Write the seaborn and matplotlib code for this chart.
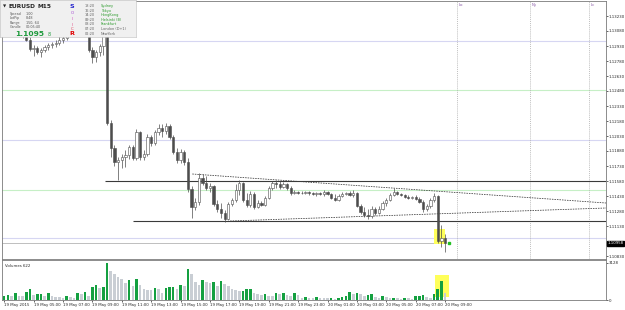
import numpy as np
import pandas as pd
import matplotlib
matplotlib.use("Agg")
import matplotlib.pyplot as plt
from matplotlib.patches import Rectangle
import seaborn as sns

# EURUSD M15, 19 May 2015 03:00 -> 20 May 2015 09:00
open_ = [1.1313, 1.1315, 1.1317, 1.1314, 1.1310, 1.1308, 1.1303, 1.1299, 1.1290, 1.1291,
         1.1287, 1.1289, 1.1292, 1.1294, 1.1295, 1.1296, 1.1299, 1.1301, 1.1309, 1.1311,
         1.1313, 1.1312, 1.1309, 1.1305, 1.1289, 1.1282, 1.1287, 1.1293, 1.1305, 1.1216,
         1.1191, 1.1177, 1.1179, 1.1182, 1.1184, 1.1192, 1.1181, 1.1207, 1.1182, 1.1185,
         1.1202, 1.1196, 1.1207, 1.1211, 1.1208, 1.1213, 1.1202, 1.1187, 1.1179, 1.1187,
         1.1177, 1.1150, 1.1132, 1.1137, 1.1161, 1.1156, 1.1151, 1.1153, 1.1135, 1.1130,
         1.1126, 1.1120, 1.1135, 1.1139, 1.1149, 1.1156, 1.1139, 1.1134, 1.1145, 1.1132,
         1.1136, 1.1134, 1.1141, 1.1151, 1.1156, 1.1155, 1.1152, 1.1155, 1.1151, 1.1146,
         1.1147, 1.1146, 1.1146, 1.1147, 1.1146, 1.1145, 1.1146, 1.1145, 1.1147, 1.1145,
         1.1141, 1.1139, 1.1143, 1.1145, 1.1146, 1.1144, 1.1146, 1.1133, 1.1127, 1.1124,
         1.1123, 1.1130, 1.1126, 1.1130, 1.1136, 1.1139, 1.1144, 1.1147, 1.1145, 1.1144,
         1.1142, 1.1141, 1.1142, 1.1140, 1.1137, 1.1130, 1.1133, 1.1139, 1.1143, 1.1098,
         1.1101]
high = [1.1319, 1.1320, 1.1321, 1.1318, 1.1315, 1.1312, 1.1307, 1.1302, 1.1294, 1.1293,
        1.1291, 1.1294, 1.1296, 1.1297, 1.1299, 1.1303, 1.1306, 1.1311, 1.1314, 1.1317,
        1.1317, 1.1316, 1.1314, 1.1308, 1.1292, 1.1289, 1.1295, 1.1309, 1.1309, 1.1219,
        1.1194, 1.1182, 1.1185, 1.1189, 1.1194, 1.1194, 1.1210, 1.1208, 1.1189, 1.1205,
        1.1204, 1.1209, 1.1215, 1.1215, 1.1216, 1.1215, 1.1204, 1.1191, 1.1190, 1.1189,
        1.1181, 1.1153, 1.1141, 1.1166, 1.1165, 1.1163, 1.1156, 1.1154, 1.1139, 1.1136,
        1.1129, 1.1137, 1.1141, 1.1155, 1.1159, 1.1157, 1.1146, 1.1148, 1.1147, 1.1139,
        1.1138, 1.1143, 1.1153, 1.1158, 1.1159, 1.1158, 1.1157, 1.1156, 1.1153, 1.1149,
        1.1148, 1.1148, 1.1148, 1.1148, 1.1147, 1.1147, 1.1147, 1.1149, 1.1148, 1.1146,
        1.1145, 1.1145, 1.1147, 1.1147, 1.1148, 1.1149, 1.1147, 1.1135, 1.1132, 1.1130,
        1.1133, 1.1132, 1.1133, 1.1138, 1.1141, 1.1146, 1.1151, 1.1148, 1.1146, 1.1145,
        1.1144, 1.1143, 1.1144, 1.1142, 1.1139, 1.1135, 1.1141, 1.1146, 1.1144, 1.1114,
        1.1105]
low = [1.1309, 1.1311, 1.1312, 1.1308, 1.1305, 1.1301, 1.1298, 1.1288, 1.1283, 1.1285,
       1.1282, 1.1287, 1.1289, 1.1291, 1.1292, 1.1294, 1.1296, 1.1299, 1.1305, 1.1307,
       1.1309, 1.1306, 1.1303, 1.1287, 1.1276, 1.1277, 1.1283, 1.1284, 1.1214, 1.1182,
       1.1173, 1.1159, 1.1171, 1.1172, 1.1180, 1.1179, 1.1179, 1.1179, 1.1179, 1.1183,
       1.1193, 1.1194, 1.1204, 1.1202, 1.1205, 1.1200, 1.1185, 1.1176, 1.1176, 1.1174,
       1.1147, 1.1121, 1.1129, 1.1134, 1.1154, 1.1149, 1.1147, 1.1133, 1.1127, 1.1121,
       1.1117, 1.1119, 1.1133, 1.1137, 1.1144, 1.1137, 1.1132, 1.1132, 1.1130, 1.1131,
       1.1133, 1.1133, 1.1140, 1.1149, 1.1151, 1.1150, 1.1151, 1.1149, 1.1144, 1.1145,
       1.1145, 1.1145, 1.1145, 1.1144, 1.1144, 1.1143, 1.1144, 1.1143, 1.1144, 1.1140,
       1.1138, 1.1138, 1.1142, 1.1144, 1.1143, 1.1142, 1.1132, 1.1125, 1.1122, 1.1120,
       1.1121, 1.1124, 1.1125, 1.1129, 1.1133, 1.1138, 1.1143, 1.1144, 1.1143, 1.1141,
       1.1140, 1.1140, 1.1139, 1.1136, 1.1127, 1.1128, 1.1131, 1.1137, 1.1096, 1.1092,
       1.1087]
close = [1.1315, 1.1317, 1.1314, 1.1310, 1.1308, 1.1303, 1.1299, 1.1290, 1.1291, 1.1287,
         1.1289, 1.1292, 1.1294, 1.1295, 1.1296, 1.1299, 1.1301, 1.1309, 1.1311, 1.1313,
         1.1312, 1.1309, 1.1306, 1.1289, 1.1282, 1.1287, 1.1293, 1.1305, 1.1216, 1.1191,
         1.1177, 1.1179, 1.1182, 1.1184, 1.1192, 1.1181, 1.1207, 1.1182, 1.1185, 1.1202,
         1.1196, 1.1207, 1.1211, 1.1208, 1.1213, 1.1202, 1.1187, 1.1179, 1.1187, 1.1177,
         1.1150, 1.1132, 1.1137, 1.1161, 1.1156, 1.1151, 1.1153, 1.1135, 1.1130, 1.1126,
         1.1120, 1.1135, 1.1139, 1.1149, 1.1156, 1.1139, 1.1134, 1.1145, 1.1132, 1.1136,
         1.1134, 1.1141, 1.1151, 1.1156, 1.1155, 1.1152, 1.1155, 1.1151, 1.1146, 1.1147,
         1.1146, 1.1146, 1.1147, 1.1146, 1.1145, 1.1146, 1.1145, 1.1147, 1.1145, 1.1141,
         1.1139, 1.1143, 1.1145, 1.1146, 1.1144, 1.1146, 1.1133, 1.1127, 1.1124, 1.1123,
         1.1130, 1.1126, 1.1130, 1.1136, 1.1139, 1.1144, 1.1147, 1.1145, 1.1144, 1.1142,
         1.1141, 1.1142, 1.1140, 1.1137, 1.1130, 1.1133, 1.1139, 1.1143, 1.1098, 1.1101,
         1.10958]
volume = [300, 430, 300, 570, 350, 320, 680, 890, 400, 490,
          500, 350, 570, 300, 290, 220, 210, 350, 220, 140,
          570, 490, 680, 350, 1080, 1300, 1030, 1130, 3128, 2460,
          2240, 1920, 1760, 1430, 1650, 1160, 1760, 1240, 950, 840,
          820, 1030, 890, 620, 1030, 1110, 1120, 950, 1240, 1160,
          2650, 2240, 1490, 1300, 1650, 1490, 1430, 1490, 1160, 1570,
          1350, 1160, 890, 840, 760, 780, 890, 970, 570, 490,
          400, 490, 350, 300, 570, 490, 620, 430, 350, 570,
          400, 140, 220, 200, 140, 240, 190, 190, 150, 160,
          110, 135, 270, 350, 680, 490, 620, 490, 350, 400,
          490, 270, 190, 320, 220, 140, 190, 140, 100, 160,
          140, 120, 350, 380, 410, 220, 200, 490, 890, 1620,
          622]

date_labels = ["19 May 2015", "19 May 05:00", "19 May 07:00", "19 May 09:00",
               "19 May 11:00", "19 May 13:00", "19 May 15:00", "19 May 17:00",
               "19 May 19:00", "19 May 21:00", "19 May 23:00", "20 May 01:00",
               "20 May 03:00", "20 May 05:00", "20 May 07:00", "20 May 09:00"]
price_ticks = [1.1083, 1.1113, 1.1128, 1.1143, 1.1158, 1.1173, 1.1188, 1.1203,
               1.1218, 1.1233, 1.1248, 1.1263, 1.1278, 1.1293, 1.1308, 1.1323]
pivot_lavender = [1.1298, 1.1199, 1.1101]
pivot_green = [1.1249, 1.1149]
support_levels = [1.1158, 1.1118]
triangle_upper = [1.1165, 1.1136]
triangle_lower = [1.1118, 1.1131]
bid = 1.10958
vol_label_max = 3128
session_names = ["Lo", "Ny", "Lc"]
info_keys = ["Spread", "LotPip", "Range", "Candle"]
info_vals = ["1.00", "8.48", "150, 64", "00:05:40"]
clock_times = ["18:20", "16:20", "14:20", "09:20", "08:20", "07:20", "02:20"]
clock_cities = ["Sydney", "Tokyo", "HongKong", "Helsinki (B)", "Frankfurt",
                "London (D+1)", "NewYork"]
sess_letters = ["S", "O", "I", "I", "C", "R"]

sns.set_theme(style="white")
plt.rcParams["font.family"] = ["DejaVu Sans"]

df = pd.DataFrame({"open": open_, "high": high, "low": low,
                   "close": close, "volume": volume})
df["bar"] = np.arange(len(df))
df["up"] = df["close"] >= df["open"]
df["vol_dir"] = np.where(df["volume"].diff().fillna(1) > 0, "up", "down")

W, H = 625, 310
def box(x0, y0, x1, y1):
    return [x0 / W, 1 - y1 / H, (x1 - x0) / W, (y1 - y0) / H]

fig = plt.figure(figsize=(6.25, 3.1), dpi=100)
ax = fig.add_axes(box(2, 1, 606, 259))
axv = fig.add_axes(box(2, 260, 606, 300))
xmax = 163.8
edge = "#4d4d4d"
small = 2.8

# price panel: levels first, candles on top
for lv in pivot_lavender:
    ax.axhline(lv, color="#d6d6f2", lw=0.8, zorder=1)
for lv in pivot_green:
    ax.axhline(lv, color="#c6efc6", lw=0.8, zorder=1)
ax.hlines(support_levels, [27.5, 35.1], xmax, color="#3a3a3a", lw=0.8, zorder=2)
ax.plot([51.2, xmax], triangle_upper, color="#3a3a3a", lw=0.55, ls=(0, (2, 1.3)), zorder=2)
ax.plot([61.5, xmax], triangle_lower, color="#3a3a3a", lw=0.55, ls=(0, (2, 1.3)), zorder=2)
ax.hlines(bid, -0.6, 118.6, color="#b4b4b4", lw=0.6, zorder=1)
for x, name in zip([123.3, 143.1, 159.2], session_names):
    ax.axvline(x, color="#a8a8a8", lw=0.5, ls=(0, (1.5, 1.5)), zorder=1)
    ax.text(x + 0.4, 1.1334, name, fontsize=small, color="#8a5aa8", va="center")
ax.add_patch(Rectangle((117.0, 1.1095), 3.0, 0.0015, facecolor="#ffff5a",
                       edgecolor="none", zorder=1.5))

ax.vlines(df["bar"], df["low"], df["high"], color=edge, lw=0.5, zorder=3)
body = (df["close"] - df["open"]).abs().clip(lower=0.00003)
ax.bar(df["bar"], body, bottom=np.minimum(df["open"], df["close"]), width=0.62,
       color=np.where(df["up"], "white", edge), edgecolor=edge, linewidth=0.4, zorder=4)
ax.plot([121.1], [bid], marker="s", ms=1.6, color="#22c022", zorder=5)

ax.set_xlim(-0.6, xmax)
ax.set_ylim(1.1080, 1.1338)
ax.set_xticks([])
ax.yaxis.tick_right()
ax.set_yticks(price_ticks)
ax.set_yticklabels([f"{t:.5f}" for t in price_ticks])
ax.tick_params(axis="y", right=True, labelsize=small, length=1.2, width=0.5, pad=0.6)
ax.text(1.002, bid, f"{bid:.5f}", transform=ax.get_yaxis_transform(), fontsize=small,
        color="white", va="center", ha="left",
        bbox=dict(boxstyle="square,pad=0.1", fc="black", ec="black"))

# volume panel
vtop = vol_label_max * 40 / 37
axv.add_patch(Rectangle((117.3, vtop * 3 / 40), 3.8, vtop * 22 / 40,
                        facecolor="#ffff5a", edgecolor="none", zorder=0.5))
sns.barplot(data=df, x="bar", y="volume", hue="vol_dir",
            palette={"up": "#14a040", "down": "#c9ced4"}, native_scale=True,
            dodge=False, width=0.7, saturation=1, errorbar=None, legend=False,
            edgecolor="none", linewidth=0, ax=axv)
axv.set_xlim(-0.6, xmax)
axv.set_ylim(0, vtop)
axv.set_xlabel("")
axv.set_ylabel("")
axv.set_xticks(np.arange(0, 121, 8))
axv.set_xticklabels(date_labels, ha="left")
axv.tick_params(axis="x", bottom=True, labelsize=small, length=1.2, width=0.5, pad=1)
axv.yaxis.tick_right()
axv.set_yticks([0, vol_label_max])
axv.set_yticklabels(["0", str(vol_label_max)])
axv.tick_params(axis="y", right=True, labelsize=small, length=1.2, width=0.5, pad=0.6)
axv.text(0.005, 0.9, f"Volumes {volume[-1]}", transform=axv.transAxes,
         fontsize=small, va="top")

for a in (ax, axv):
    for s in a.spines.values():
        s.set_color("#7a7a7a")
        s.set_linewidth(0.6)

# info panel in the top-left corner
axp = fig.add_axes(box(0, 0, 136, 37))
axp.set_xlim(0, 136)
axp.set_ylim(37, 0)
axp.set_facecolor("#f0f0f0")
axp.set_xticks([])
axp.set_yticks([])
for s in axp.spines.values():
    s.set_color("#c8c8c8")
    s.set_linewidth(0.5)
axp.text(2.5, 6, "▼", fontsize=3, va="center")
axp.text(8.5, 6, "EURUSD", fontsize=4.2, fontweight="bold", va="center")
axp.text(37, 6, "M15", fontsize=4.2, fontweight="bold", va="center")
for i, (k, v) in enumerate(zip(info_keys, info_vals)):
    y = 14 + 4.4 * i
    axp.text(10, y, k, fontsize=2.4, color="#555555", va="center")
    axp.text(26, y, v, fontsize=2.4, color="#555555", va="center")
axp.text(15, 33.5, "1.1095", fontsize=5.4, fontweight="bold", color="#1e9a3c", va="center")
axp.text(48, 34.5, "8", fontsize=3.4, color="#1e9a3c", va="center")
letter_y = [6, 13.5, 19.5, 24.5, 28.5, 33.5]
letter_c = ["#2323cc", "#a040d0", "#d040c0", "#e04080", "#e03050", "#e00000"]
for i, (t, y, c) in enumerate(zip(sess_letters, letter_y, letter_c)):
    big = i in (0, len(sess_letters) - 1)
    axp.text(72, y, t, fontsize=4.6 if big else 2.8, fontweight="bold" if big else "normal",
             color=c, va="center", ha="center")
for i, (t, c) in enumerate(zip(clock_times, clock_cities)):
    y = 6 + 4.6 * i
    axp.text(85, y, t, fontsize=2.5, color="#606060", va="center")
    axp.text(101, y, c, fontsize=2.5, color="#2a9a2a" if i < 5 else "#606060", va="center")

fig.savefig("out.png", dpi=100)
